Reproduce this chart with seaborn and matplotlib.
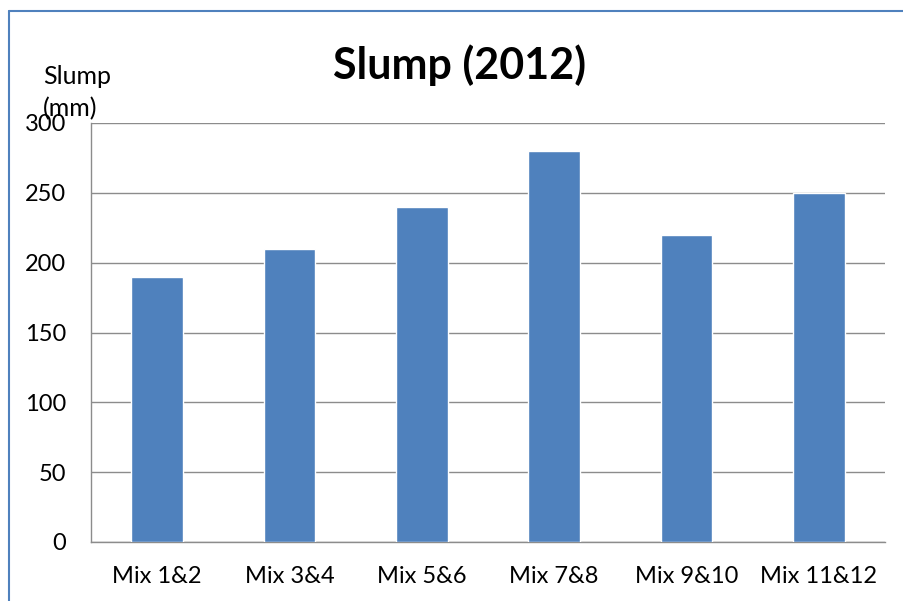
import matplotlib
matplotlib.use("Agg")
import matplotlib.pyplot as plt
from matplotlib.lines import Line2D
import numpy as np
import pandas as pd
import seaborn as sns

# chart data
mixes = ["Mix 1&2", "Mix 3&4", "Mix 5&6", "Mix 7&8", "Mix 9&10", "Mix 11&12"]
slump_mm = [190, 210, 240, 280, 220, 250]
y_ticks = [0, 50, 100, 150, 200, 250, 300]

df = pd.DataFrame({"mix": mixes, "slump": slump_mm})

sns.set_style("white")
plt.rcParams["font.family"] = ["Lato", "DejaVu Sans"]
plt.rcParams["text.color"] = "black"
plt.rcParams["xtick.labelcolor"] = "black"
plt.rcParams["ytick.labelcolor"] = "black"

fig = plt.figure(figsize=(9.04, 6.01), dpi=100)
ax = fig.add_axes([91 / 904, 59 / 601, 794 / 904, 419 / 601])

sns.barplot(data=df, x="mix", y="slump", color="#4F81BD", width=0.39,
            saturation=1, ax=ax, zorder=3)

ax.set_ylim(0, 300)
ax.set_xlim(-0.5, len(mixes) - 0.5)
ax.set_yticks(y_ticks)
ax.yaxis.grid(True, color="#8c8c8c", linewidth=1.0, zorder=0)
ax.set_axisbelow(True)

# category boundary ticks like Excel
ax.set_xticks(np.arange(-0.5, len(mixes)), minor=True)
ax.tick_params(axis="x", which="major", length=0, pad=17, labelsize=17,
               labelcolor="black")
ax.tick_params(axis="x", which="minor", length=6, width=1, color="#8c8c8c")
ax.tick_params(axis="y", length=6, width=1, color="#8c8c8c", labelsize=17, pad=12,
               labelcolor="black")
ax.set_xlabel("")
ax.set_ylabel("")

for side in ["top", "right"]:
    ax.spines[side].set_visible(False)
for side in ["left", "bottom"]:
    ax.spines[side].set_color("#8c8c8c")
    ax.spines[side].set_linewidth(1.0)

fig.text(460 / 904, 1 - 65 / 601, "Slump (2012)", ha="center", va="center",
         fontsize=31, fontweight="bold", color="black")
fig.text(43 / 904, 1 - 76 / 601, "Slump", ha="left", va="center", fontsize=18,
         color="black")
fig.text(43 / 904, 1 - 109 / 601, "(mm)", ha="left", va="center", fontsize=18,
         color="black")

# chart-area border (blue left, top)
fig.add_artist(Line2D([9 / 904, 9 / 904], [0, 1 - 11 / 601], color="#4F81BD",
                      linewidth=1.5, transform=fig.transFigure))
fig.add_artist(Line2D([9 / 904, 1], [1 - 11 / 601, 1 - 11 / 601], color="#4F81BD",
                      linewidth=1.5, transform=fig.transFigure))

fig.savefig("out.png", dpi=100)
